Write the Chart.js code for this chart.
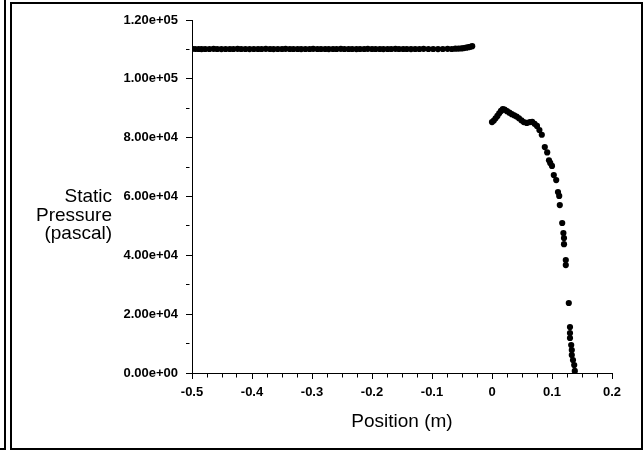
<!DOCTYPE html>
<html>
<head>
<meta charset="utf-8">
<script src="https://cdn.jsdelivr.net/npm/chart.js@4/dist/chart.umd.min.js"></script>
<style>
body { margin: 0; background: #fff; }
#wrap { position: relative; width: 643px; height: 451px; overflow: hidden; background: #fff; }
.frame { position: absolute; border: 2px solid #000; box-sizing: border-box; }
canvas { position: absolute; left: 0; top: 0; }
</style>
</head>
<body>
<div id="wrap">
  <div class="frame" style="left:-10px;top:-10px;width:16px;height:460px"></div>
  <div class="frame" style="left:10px;top:2px;width:633px;height:448px"></div>
  <canvas id="pressure" width="643" height="451"></canvas>
</div>
<script>
//------------- DATA -----------------

// upstream section, x < 0
const upstreamX = [
  -0.500,-0.495,-0.489,-0.484,-0.478,-0.471,-0.464,-0.458,-0.451,-0.444,
  -0.437,-0.431,-0.424,-0.418,-0.411,-0.404,-0.397,-0.390,-0.384,-0.377,
  -0.370,-0.364,-0.357,-0.350,-0.344,-0.337,-0.331,-0.324,-0.318,-0.311,
  -0.304,-0.298,-0.291,-0.285,-0.278,-0.272,-0.265,-0.259,-0.252,-0.246,
  -0.239,-0.233,-0.226,-0.220,-0.213,-0.207,-0.200,-0.194,-0.187,-0.181,
  -0.174,-0.168,-0.161,-0.155,-0.148,-0.142,-0.135,-0.128,-0.121,-0.114,
  -0.106,-0.098,-0.090,-0.082,-0.074,-0.067,-0.061,-0.056,-0.051,-0.047,
  -0.043,-0.039,-0.036,-0.033
];
const upstreamP = [
  110200,110150,110150,110100,110150,110150,110200,110150,110100,110150,
  110150,110150,110200,110150,110150,110100,110150,110150,110150,110200,
  110150,110100,110150,110150,110200,110150,110150,110150,110100,110150,
  110150,110200,110150,110150,110150,110100,110150,110150,110200,110150,
  110150,110150,110100,110150,110150,110200,110150,110150,110150,110100,
  110150,110150,110200,110150,110150,110150,110100,110150,110150,110200,
  110150,110150,110100,110150,110200,110150,110250,110300,110350,110450,
  110600,110750,110900,111100
];

// downstream section, x > 0
const downstreamX = [
  0.000,0.003,0.006,0.009,0.012,0.015,0.018,0.021,0.025,0.029,
  0.033,0.037,0.041,0.045,0.049,0.053,0.058,0.063,0.067,0.071,
  0.075,0.079,0.083,0.088,0.092,0.095,0.097,0.100,0.103,0.107,
  0.110,0.112,0.113,0.117,0.119,0.120,0.120,0.123,0.123,0.128,
  0.130,0.130,0.130,0.132,0.133,0.133,0.135,0.137,0.138
];
const downstreamP = [
  85300,85800,86600,87400,88300,89100,89700,89500,89000,88500,
  88000,87600,87200,86600,85900,85300,85000,85300,85400,84700,
  84000,82600,81000,76800,75000,72300,71400,70400,67300,65600,
  61500,60200,57100,51000,47600,45900,43800,38400,36700,23800,
  15600,13600,11900,9500,7800,6100,4400,2700,700
];

const xTicks = [-0.5,-0.4,-0.3,-0.2,-0.1,0,0.1,0.2];
const xTickLabels = ['-0.5','-0.4','-0.3','-0.2','-0.1','0','0.1','0.2'];
const yTicks = [0,20000,40000,60000,80000,100000,120000];
const yTickLabels = ['0.00e+00','2.00e+04','4.00e+04','6.00e+04','8.00e+04','1.00e+05','1.20e+05'];
const xMinorPerMajor = 3;
const yMinorPerMajor = 1;

const xTitle = 'Position (m)';
const yTitle = ['Static', 'Pressure', '(pascal)'];


//------------- HELPERS -----------------

function toPoints(xs, ys) {
  return xs.map((x, i) => ({x: x, y: ys[i]}));
}

// major ticks plus evenly split minor ticks between them
function withMinors(majors, n) {
  const out = [];
  majors.forEach((v, i) => {
    out.push({value: v, minor: false});
    if (i < majors.length - 1) {
      const step = (majors[i + 1] - v) / (n + 1);
      for (let k = 1; k <= n; k++) out.push({value: v + step * k, minor: true});
    }
  });
  return out;
}

function labelFor(majors, labels) {
  return (value, index, ticks) => {
    const t = ticks[index];
    if (t.minor) return '';
    const j = majors.findIndex(m => Math.abs(m - value) < 1e-9);
    return j >= 0 ? labels[j] : '';
  };
}

const tickFont = {family: '"Liberation Sans"', size: 13, weight: 'bold'};

const axisGrid = {
  drawOnChartArea: false,
  tickLength: 6,
  tickColor: '#000',
  tickWidth: 1,
  tickBorderDash: (ctx) => (ctx.tick && ctx.tick.minor) ? [3.5, 40] : []
};

const sideTitle = {
  id: 'sideTitle',
  afterDraw(chart) {
    const c = chart.ctx;
    c.save();
    c.font = '19px "Liberation Sans"';
    c.fillStyle = '#000';
    c.textAlign = 'right';
    c.textBaseline = 'middle';
    yTitle.forEach((t, i) => c.fillText(t, 112, 197 + i * 18.5));
    c.restore();
  }
};


//------------- CHART -----------------

const ctx = document.getElementById('pressure');
const chart = new Chart(ctx, {
  type: 'scatter',
  data: {
    datasets: [
      {label: 'upstream', data: toPoints(upstreamX, upstreamP)},
      {label: 'downstream', data: toPoints(downstreamX, downstreamP)}
    ]
  },
  options: {
    responsive: false,
    animation: false,
    layout: {padding: {top: 20, right: 31, left: 0, bottom: 0}},
    plugins: {legend: {display: false}, tooltip: {enabled: false}},
    elements: {point: {radius: 3.1, backgroundColor: '#000', borderWidth: 0, hoverRadius: 3.1}},
    scales: {
      x: {
        type: 'linear',
        min: -0.5,
        max: 0.2,
        afterBuildTicks: (s) => { s.ticks = withMinors(xTicks, xMinorPerMajor); },
        afterFit: (s) => { s.height = 78; },
        ticks: {
          callback: labelFor(xTicks, xTickLabels),
          font: tickFont, color: '#000', padding: 6,
          autoSkip: false, maxRotation: 0
        },
        grid: axisGrid,
        border: {color: '#000', width: 1},
        title: {
          display: true, text: xTitle, color: '#000',
          font: {family: '"Liberation Sans"', size: 19},
          padding: {top: 4, bottom: 18}
        }
      },
      y: {
        type: 'linear',
        min: 0,
        max: 120000,
        afterBuildTicks: (s) => { s.ticks = withMinors(yTicks, yMinorPerMajor); },
        afterFit: (s) => { s.width = 192; },
        ticks: {
          callback: labelFor(yTicks, yTickLabels),
          font: tickFont, color: '#000', padding: 8,
          autoSkip: false
        },
        grid: axisGrid,
        border: {color: '#000', width: 1}
      }
    }
  },
  plugins: [sideTitle]
});
</script>
</body>
</html>
